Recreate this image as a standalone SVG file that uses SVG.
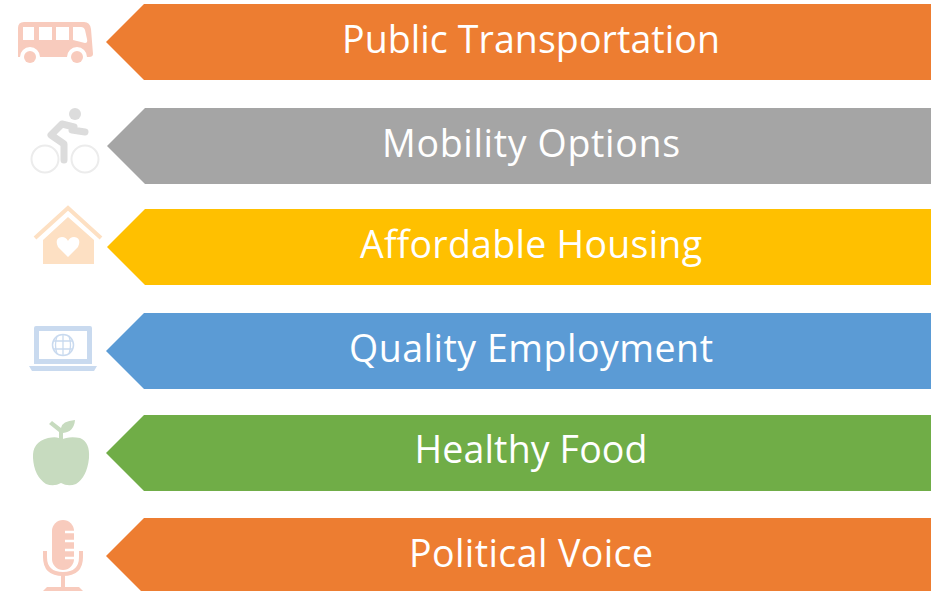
<svg xmlns="http://www.w3.org/2000/svg" width="945" height="591" viewBox="0 0 945 591">
<defs><filter id="soft" x="-10%" y="-10%" width="120%" height="120%"><feGaussianBlur stdDeviation="0.7"/></filter></defs>
<style>
text{font-family:"Open Sans","Noto Sans",sans-serif;font-size:37.500px;fill:#fff;text-anchor:middle}
.o{fill:#ed7d31}.g{fill:#a5a5a5}.y{fill:#ffc000}.b{fill:#5b9bd5}.n{fill:#70ad47}
.i1{fill:#f8cbbd}.i2{fill:#dcdcdc}.i3{fill:#fde0c3}.i4{fill:#c9daef}.i5{fill:#c7dbbf}
.ic{filter:url(#soft)}
</style>
<rect width="945" height="591" fill="#fff"/>
<g id="node-public-transportation">
<g id="icon-bus" class="ic">
<path class="i1" fill-rule="evenodd" d="M24 22H84Q90 22 91 29L93 54Q93 57 89 57H87A10 10 0 0 0 67 57H40A10 10 0 0 0 20 57H18V28Q18 22 24 22ZM23 27V40H34V27ZM39 27V40H52V27ZM56 27V40H69V27ZM73 27V40L85 43Q88 43 87 39L85 30Q84 27 81 27Z"/>
<circle class="i1" cx="30" cy="57" r="6"/><circle class="i1" cx="77" cy="57" r="6"/>
</g>
<polygon class="o" points="106,42 144,4 931,4 931,80 144,80"/>
<text x="531" y="52.500" textLength="378" lengthAdjust="spacing">Public Transportation</text>
</g>
<g id="node-mobility-options">
<g id="icon-bike" class="ic">
<circle class="i2" cx="75" cy="114" r="6"/>
<path d="M74 127L62 124L51 135L64 144V160M72 130L85 132" fill="none" stroke="#dcdcdc" stroke-width="7" stroke-linecap="round" stroke-linejoin="round"/>
<circle cx="45" cy="159" r="13.500" fill="none" stroke="#ececec" stroke-width="2"/>
<circle cx="85" cy="159" r="13.500" fill="none" stroke="#ececec" stroke-width="2"/>
</g>
<polygon class="g" points="107,146 145,108 931,108 931,184 145,184"/>
<text x="531" y="156.500" textLength="298" lengthAdjust="spacing">Mobility Options</text>
</g>
<g id="node-affordable-housing">
<g id="icon-house" class="ic">
<path d="M35 238L68 208L101 238" fill="none" stroke="#fde0c3" stroke-width="4"/>
<path class="i3" fill-rule="evenodd" d="M43 240L68 217L94 240V264H43ZM68 257L78 247Q82 238 74 237Q70 237 68 241Q66 237 62 237Q54 238 58 247Z"/>
</g>
<polygon class="y" points="107,247 145,209 931,209 931,285 145,285"/>
<text x="531" y="257.500" textLength="342" lengthAdjust="spacing">Affordable Housing</text>
</g>
<g id="node-quality-employment">
<g id="icon-laptop" class="ic">
<path class="i4" fill-rule="evenodd" d="M36 326H90Q92 326 92 328V364H34V328Q34 326 36 326ZM39 331V359H87V331Z"/>
<path class="i4" d="M29 366H97L94 371H32Z"/>
<circle cx="63" cy="345" r="10.500" fill="#fff" stroke="#c9daef" stroke-width="1.500"/>
<path d="M53 341H73M53 349H73M63 334.500V355.500M57 336Q54 345 57 354M69 336Q72 345 69 354" fill="none" stroke="#c9daef" stroke-width="1.300"/>
</g>
<polygon class="b" points="106,351 144,313 931,313 931,389 144,389"/>
<text x="531" y="361.500" textLength="364" lengthAdjust="spacing">Quality Employment</text>
</g>
<g id="node-healthy-food">
<g id="icon-apple" class="ic">
<path class="i5" d="M48 438Q59 436 61 440Q68 436 80 438Q90 442 89 458Q87 477 76 484Q68 487 61 483Q54 487 46 484Q34 476 33 458Q32 442 48 438Z"/>
<path class="i5" d="M59 441V432L49 424L52 421L61 428Q62 421 75 420Q74 432 63 433V441Z"/>
</g>
<polygon class="n" points="106,453 144,415 931,415 931,491 144,491"/>
<text x="531" y="462.500" textLength="233" lengthAdjust="spacing">Healthy Food</text>
</g>
<g id="node-political-voice">
<g id="icon-microphone" class="ic">
<rect class="i1" x="52" y="520" width="22" height="50" rx="11"/>
<path d="M45 551V557Q45 574 63 574Q81 574 81 557V551" fill="none" stroke="#f8cbbd" stroke-width="4"/>
<path d="M63 574V588" stroke="#f8cbbd" stroke-width="4"/>
<path d="M43 591L47 587H79L83 591Z" class="i1"/>
<path d="M65 532H75M65 541H75M65 550H75M65 558H75" stroke="#fff" stroke-width="2.500"/>
</g>
<polygon class="o" points="106,556 144,518 931,518 931,594 144,594"/>
<text x="531" y="566.500" textLength="244" lengthAdjust="spacing">Political Voice</text>
</g>
</svg>
